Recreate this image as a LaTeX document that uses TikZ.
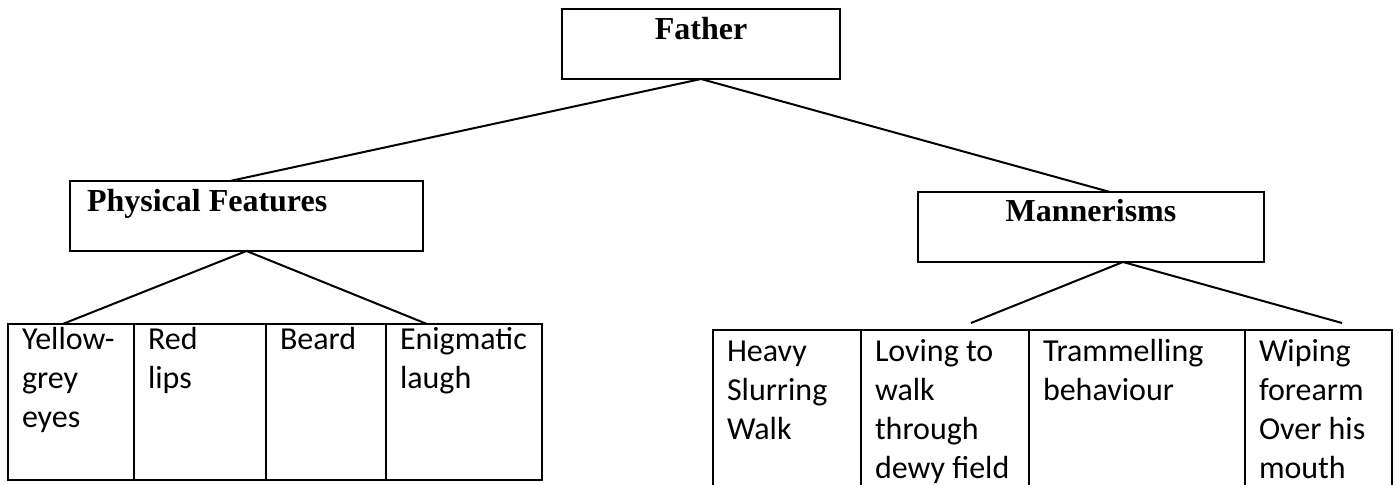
\documentclass[tikz,border=0pt]{standalone}
\usepackage{fontspec}
\setmainfont{Liberation Serif}
\newfontfamily\carlito{Carlito}
\usepackage{tikz}

\begin{document}
\begin{tikzpicture}[x=0.75pt, y=-0.75pt,
    head/.style={draw, line width=2pt, inner sep=0pt, outer sep=0pt, font=\fontsize{24}{29}\selectfont\bfseries},
    cell/.style={draw, line width=2pt, inner xsep=10.5pt, inner ysep=0pt, outer sep=0pt, anchor=north west, align=flush left, font=\carlito\fontsize{24}{29.25}\selectfont},
    lowcell/.style={cell, text height=18.75pt, text depth=98.25pt},
    highcell/.style={cell, text height=23.75pt, text depth=103.75pt},
    link/.style={line width=1.5pt}]
    \useasboundingbox (0,0) rectangle (1400,485);
    \clip (0,0) rectangle (1400,485);

    % Headings
    \node[head, minimum width=208.5pt, text height=23.25pt, text depth=29.25pt, anchor=north] (father) at (701,9) {Father};
    \node[head, text width=239.25pt, align=flush left, inner xsep=12.75pt, text height=22.5pt, text depth=30pt, anchor=north west] (physical) at (70,181) {Physical Features};
    \node[head, minimum width=259.5pt, text height=21.75pt, text depth=30.75pt, anchor=north west] (manner) at (918,192) {Mannerisms};

    % Physical features
    \node[lowcell, text width=73.5pt] (yellow) at (8,324) {Yellow-\\grey\\eyes};
    \node[lowcell, text width=78pt] (lips) at (yellow.north east) {Red\\lips};
    \node[lowcell, text width=69pt] (beard) at (lips.north east) {Beard};
    \node[lowcell, text width=96pt] (laugh) at (beard.north east) {Enigmatic\\laugh};

    % Mannerisms
    \node[highcell, text width=90pt] (walk) at (713,330) {Heavy\\Slurring\\Walk};
    \node[highcell, text width=105pt] (loving) at (walk.north east) {Loving to\\walk\\through\\dewy field};
    \node[highcell, text width=141pt] (trammel) at (loving.north east) {Trammelling\\behaviour};
    \node[highcell, text width=89.25pt] (wiping) at (trammel.north east) {Wiping\\forearm\\Over his\\mouth};

    % Connectors
    \draw[link] (father.south) -- ([xshift=-12.4pt]physical.north);
    \draw[link] (father.south) -- ([xshift=14.25pt]manner.north);
    \draw[link] ([xshift=41pt]yellow.north west) -- (physical.south) -- ([xshift=30.75pt]laugh.north west);
    \draw[link] ([shift={(82.5pt,5.25pt)}]loving.north west) -- ([xshift=24pt]manner.south) -- ([shift={(72.75pt,5.25pt)}]wiping.north west);
\end{tikzpicture}
\end{document}
